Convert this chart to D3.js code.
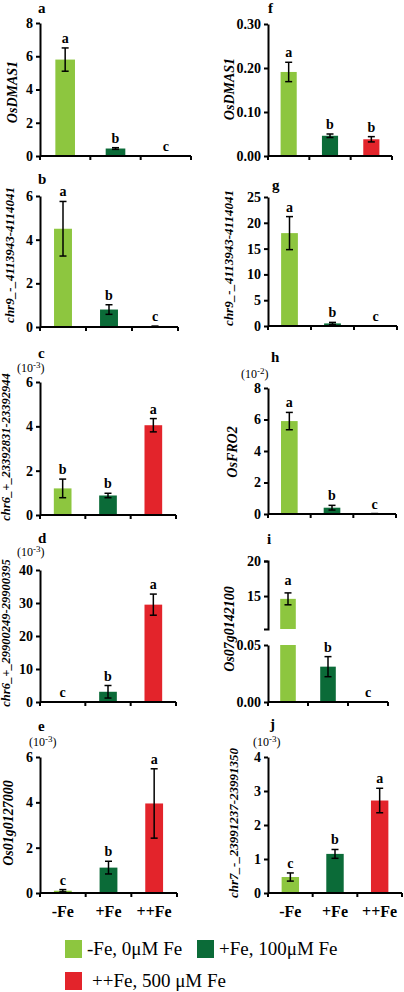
<!DOCTYPE html>
<html><head><meta charset="utf-8">
<script src="https://cdn.jsdelivr.net/npm/d3@7"></script>
<style>body{margin:0;background:#fff}svg{display:block}</style>
</head><body>
<script>
// ---------- DATA ----------
const categories = ["-Fe", "+Fe", "++Fe"];
const legendLabels = ["-Fe, 0\u03bcM Fe", "+Fe, 100\u03bcM Fe", "++Fe, 500 \u03bcM Fe"];
const colors = ["#8dc63f", "#0b6b38", "#e3242b"];

const meanA = [5.8, 0.45, 0],   errA = [0.7, 0.05, 0],    sigA = ["a", "b", "c"];
const meanF = [0.191, 0.046, 0.038], errF = [0.022, 0.004, 0.006], sigF = ["a", "b", "b"];
const meanB = [4.5, 0.8, 0.03], errB = [1.25, 0.22, 0.01], sigB = ["a", "b", "c"];
const meanG = [18.0, 0.5, 0],   errG = [3.2, 0.2, 0],     sigG = ["a", "b", "c"];
const meanC = [1.2, 0.88, 4.05], errC = [0.42, 0.1, 0.3], sigC = ["b", "b", "a"];
const meanH = [5.9, 0.4, 0.02], errH = [0.55, 0.15, 0.01], sigH = ["a", "b", "c"];
const meanD = [0, 3.1, 29.5],   errD = [0, 1.9, 3.2],     sigD = ["c", "b", "a"];
const meanI = [14.6, 0.031, 0], errI = [0.85, 0.0088, 0], sigI = ["a", "b", "c"];
const meanE = [0.1, 1.12, 3.95], errE = [0.05, 0.28, 1.53], sigE = ["c", "b", "a"];
const meanJ = [0.47, 1.15, 2.72], errJ = [0.12, 0.13, 0.36], sigJ = ["c", "b", "a"];

const ticksA = [0, 2, 4, 6, 8], ticksF = [0, 0.1, 0.2, 0.3], ticksB = [0, 2, 4, 6];
const ticksG = [0, 5, 10, 15, 20, 25], ticksC = [0, 2, 4, 6], ticksH = [0, 2, 4, 6, 8];
const ticksD = [0, 10, 20, 30, 40], ticksIup = [15, 20], ticksIlo = [0, 0.05];
const ticksE = [0, 2, 4, 6], ticksJ = [0, 1, 2, 3, 4];

// ---------- DRAW ----------
const FONT = "'Liberation Serif','Times New Roman',serif";
const svg = d3.select("body").append("svg").attr("width", 404).attr("height", 992)
  .attr("font-family", FONT);

function styleAxis(g) {
  g.select(".domain").attr("stroke", "#000").attr("stroke-width", 2);
  g.selectAll(".tick line").attr("stroke", "#000").attr("stroke-width", 2);
  g.selectAll(".tick text").attr("font-family", FONT).attr("font-size", 14)
    .attr("font-weight", "bold").attr("fill", "#000");
}

function xAxis(p, x, y0) {
  const g = svg.append("g");
  g.append("line").attr("x1", x.range()[0]).attr("x2", x.range()[1])
    .attr("y1", y0).attr("y2", y0).attr("stroke", "#000").attr("stroke-width", 2);
  const bounds = categories.map(c => x(c)).concat([x.range()[1]]);
  g.selectAll(".xt").data(bounds).join("line")
    .attr("x1", d => d).attr("x2", d => d).attr("y1", y0).attr("y2", y0 + 4)
    .attr("stroke", "#000").attr("stroke-width", 2);
  if (p.catLabels) {
    g.selectAll(".cl").data(categories).join("text")
      .attr("x", d => x(d) + x.bandwidth() / 2).attr("y", y0 + 24)
      .attr("text-anchor", "middle").attr("font-size", 16).attr("font-weight", "bold")
      .text(d => d);
  }
}

function labels(p) {
  svg.append("text").attr("x", p.lx).attr("y", p.ly).attr("font-size", 15)
    .attr("font-weight", "bold").text(p.letter);
  svg.append("text")
    .attr("transform", `translate(${p.tx},${p.ty}) rotate(-90)`)
    .attr("text-anchor", "middle").attr("dominant-baseline", "central")
    .attr("font-size", p.tfs || 13).attr("font-weight", "bold").attr("font-style", "italic")
    .text(p.title);
  if (p.mult) {
    const t = svg.append("text").attr("x", p.mx).attr("y", p.my).attr("font-size", 12);
    t.append("tspan").text("(10");
    t.append("tspan").attr("font-size", 9).attr("dy", -4).text(p.mult);
    t.append("tspan").attr("dy", 4).text(")");
  }
}

function drawBar(x, y, c, i, mean, err, sig, yBase, showErr) {
  const bw = x.bandwidth() * 0.39;
  const cx = x(c) + x.bandwidth() / 2;
  if (mean > 0) {
    svg.append("rect").attr("x", cx - bw / 2).attr("width", bw)
      .attr("y", y(mean)).attr("height", yBase - y(mean)).attr("fill", colors[i]);
  }
  if (showErr && err > 0) {
    const t = y(mean + err), b = y(Math.max(0, mean - err));
    svg.append("line").attr("x1", cx).attr("x2", cx).attr("y1", t).attr("y2", b)
      .attr("stroke", "#000").attr("stroke-width", 1.5);
    [t, b].forEach(v => svg.append("line").attr("x1", cx - 3.5).attr("x2", cx + 3.5)
      .attr("y1", v).attr("y2", v).attr("stroke", "#000").attr("stroke-width", 1.5));
  }
  const top = y(mean + err);
  svg.append("text").attr("x", cx).attr("y", top - 5).attr("text-anchor", "middle")
    .attr("font-size", 14).attr("font-weight", "bold").text(sig);
}

function panel(p, means, errs, sigs) {
  const x = d3.scaleBand().domain(categories).range([p.x0, p.x1]);
  const y = d3.scaleLinear().domain([0, p.max]).range([p.y0, p.yTop]);
  categories.forEach((c, i) => drawBar(x, y, c, i, means[i], errs[i], sigs[i], p.y0, true));
  const ga = svg.append("g").attr("transform", `translate(${p.x0},0)`)
    .call(d3.axisLeft(y).tickValues(p.ticks).tickSize(4).tickSizeOuter(0).tickFormat(p.fmt));
  styleAxis(ga);
  xAxis(p, x, p.y0);
  labels(p);
}

const f0 = d3.format("d"), f2 = d3.format(".2f");

panel({x0: 40, x1: 191, yTop: 23, y0: 156, max: 8, ticks: ticksA, fmt: f0,
  letter: "a", lx: 38, ly: 13, title: "OsDMAS1", tx: 12, ty: 92, tfs: 14}, meanA, errA, sigA);
panel({x0: 268, x1: 392, yTop: 24, y0: 156, max: 0.3, ticks: ticksF, fmt: f2,
  letter: "f", lx: 268, ly: 13, title: "OsDMAS1", tx: 229, ty: 89, tfs: 14}, meanF, errF, sigF);
panel({x0: 40, x1: 178, yTop: 196, y0: 327, max: 6, ticks: ticksB, fmt: f0,
  letter: "b", lx: 38, ly: 184, title: "chr9_-_4113943-4114041", tx: 9, ty: 255}, meanB, errB, sigB);
panel({x0: 268, x1: 397, yTop: 197, y0: 326, max: 25, ticks: ticksG, fmt: f0,
  letter: "g", lx: 272, ly: 190, title: "chr9_-_4113943-4114041", tx: 228, ty: 258}, meanG, errG, sigG);
panel({x0: 40, x1: 176, yTop: 382, y0: 515, max: 6, ticks: ticksC, fmt: f0,
  letter: "c", lx: 38, ly: 358, title: "chr6_+_23392831-23392944", tx: 6, ty: 447, tfs: 12.5,
  mult: "-3", mx: 17, my: 372}, meanC, errC, sigC);
panel({x0: 268, x1: 396, yTop: 388, y0: 514, max: 8, ticks: ticksH, fmt: f0,
  letter: "h", lx: 271, ly: 362, title: "OsFRO2", tx: 232, ty: 452, tfs: 14,
  mult: "-2", mx: 241, my: 378}, meanH, errH, sigH);
panel({x0: 40, x1: 176, yTop: 570, y0: 702, max: 40, ticks: ticksD, fmt: f0,
  letter: "d", lx: 38, ly: 543, title: "chr6_+_29900249-29900395", tx: 6, ty: 633, tfs: 12.5,
  mult: "-3", mx: 17, my: 556}, meanD, errD, sigD);
panel({x0: 40, x1: 177, yTop: 757, y0: 893, max: 6, ticks: ticksE, fmt: f0,
  letter: "e", lx: 38, ly: 731, title: "Os01g0127000", tx: 8, ty: 823, tfs: 14,
  mult: "-3", mx: 29, my: 746, catLabels: true}, meanE, errE, sigE);
panel({x0: 268, x1: 402, yTop: 757, y0: 893, max: 4, ticks: ticksJ, fmt: f0,
  letter: "j", lx: 270, ly: 729, title: "chr7_-_23991237-23991350", tx: 233, ty: 823,
  mult: "-3", mx: 253, my: 746, catLabels: true}, meanJ, errJ, sigJ);

// ---------- Panel i (broken axis) ----------
(function () {
  const p = {x0: 268, x1: 388, y0: 702, letter: "i", lx: 267, ly: 544,
    title: "Os07g0142100", tx: 229, ty: 629, tfs: 14};
  const x = d3.scaleBand().domain(categories).range([p.x0, p.x1]);
  const yUp = d3.scaleLinear().domain([10.3, 20]).range([629, 561]);
  const yLo = d3.scaleLinear().domain([0, 0.05]).range([702, 645]).clamp(true);
  const bw = x.bandwidth() * 0.39;
  categories.forEach((c, i) => {
    const m = meanI[i], e = errI[i], cx = x(c) + x.bandwidth() / 2;
    if (m > 0.05) {
      svg.append("rect").attr("x", cx - bw / 2).attr("width", bw)
        .attr("y", yUp(m)).attr("height", yUp.range()[0] - yUp(m)).attr("fill", colors[i]);
      svg.append("rect").attr("x", cx - bw / 2).attr("width", bw)
        .attr("y", yLo(0.05)).attr("height", p.y0 - yLo(0.05)).attr("fill", colors[i]);
      drawErr(cx, yUp(m + e), yUp(m - e));
      svg.append("text").attr("x", cx).attr("y", yUp(m + e) - 8).attr("text-anchor", "middle")
        .attr("font-size", 14).attr("font-weight", "bold").text(sigI[i]);
    } else {
      if (m > 0) svg.append("rect").attr("x", cx - bw / 2).attr("width", bw)
        .attr("y", yLo(m)).attr("height", p.y0 - yLo(m)).attr("fill", colors[i]);
      if (e > 0) drawErr(cx, yLo(m + e), yLo(m - e));
      svg.append("text").attr("x", cx).attr("y", yLo(m + e) - 5).attr("text-anchor", "middle")
        .attr("font-size", 14).attr("font-weight", "bold").text(sigI[i]);
    }
  });
  function drawErr(cx, t, b) {
    svg.append("line").attr("x1", cx).attr("x2", cx).attr("y1", t).attr("y2", b)
      .attr("stroke", "#000").attr("stroke-width", 1.5);
    [t, b].forEach(v => svg.append("line").attr("x1", cx - 3.5).attr("x2", cx + 3.5)
      .attr("y1", v).attr("y2", v).attr("stroke", "#000").attr("stroke-width", 1.5));
  }
  const gu = svg.append("g").attr("transform", `translate(${p.x0},0)`)
    .call(d3.axisLeft(yUp).tickValues(ticksIup).tickSize(4).tickSizeOuter(4).tickFormat(f0));
  styleAxis(gu);
  const gl = svg.append("g").attr("transform", `translate(${p.x0},0)`)
    .call(d3.axisLeft(yLo).tickValues(ticksIlo).tickSize(4).tickSizeOuter(0).tickFormat(f2));
  styleAxis(gl);
  xAxis(p, x, p.y0);
  labels(p);
})();

// ---------- Legend ----------
const legendPos = [[65, 940], [197, 940], [65, 972]];
const lg = svg.append("g");
legendLabels.forEach((t, i) => {
  lg.append("rect").attr("x", legendPos[i][0]).attr("y", legendPos[i][1])
    .attr("width", 17).attr("height", 18).attr("fill", colors[i]);
  lg.append("text").attr("x", legendPos[i][0] + (i === 2 ? 27 : 22)).attr("y", legendPos[i][1] + 15)
    .attr("font-size", 19).text(t);
});
</script>
</body></html>
